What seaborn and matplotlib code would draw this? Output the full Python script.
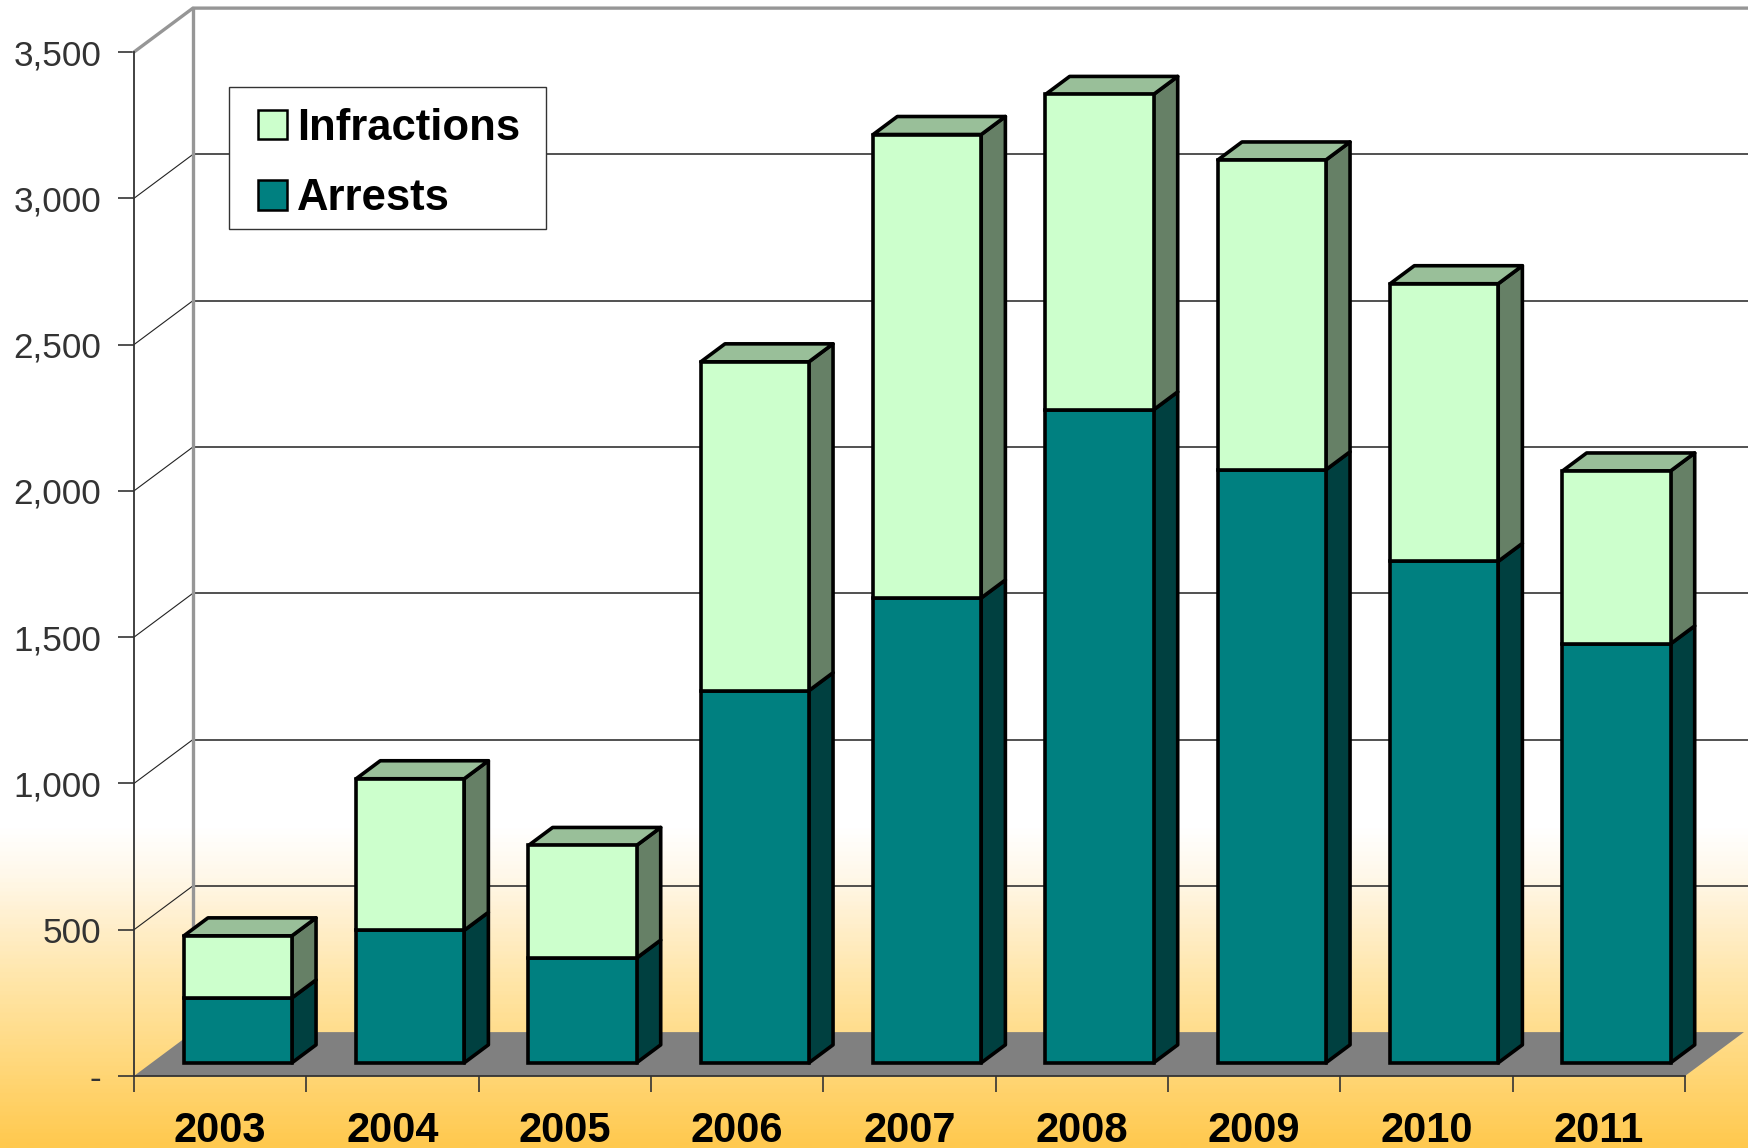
import numpy as np
import pandas as pd
import seaborn as sns
import matplotlib
matplotlib.use("Agg")
import matplotlib.pyplot as plt
from matplotlib.colors import LinearSegmentedColormap
from matplotlib.patches import Patch, Polygon, Rectangle

years = ["2003", "2004", "2005", "2006", "2007", "2008", "2009", "2010", "2011"]
arrests = [222, 453, 358, 1272, 1589, 2232, 2027, 1714, 1432]
infractions = [212, 518, 385, 1124, 1584, 1078, 1059, 949, 591]
y_ticks = [0, 500, 1000, 1500, 2000, 2500, 3000, 3500]
y_labels = ["-", "500", "1,000", "1,500", "2,000", "2,500", "3,000", "3,500"]

sns.set_theme(style="white")
plt.rcParams["font.family"] = ["Liberation Sans", "DejaVu Sans"]

W, H = 1748, 1148
fig = plt.figure(figsize=(W / 100, H / 100), dpi=100)

# background gradient
bg = fig.add_axes([0, 0, 1, 1], zorder=0)
cmap = LinearSegmentedColormap.from_list(
    "g", [(0, "#FFFFFF"), (0.723, "#FFFFFF"), (0.767, "#FFF8E8"), (0.80, "#FFF0D0"),
          (0.854, "#FFE6AA"), (0.923, "#FFD97F"), (1, "#FFC94F")])
bg.imshow(np.linspace(0, 1, 600)[:, None], aspect="auto", cmap=cmap, extent=[0, 1, 0, 1],
          vmin=0, vmax=1)
bg.axis("off")

ax = fig.add_axes([134 / W, (H - 1076) / H, 1551 / W, 1024 / H], zorder=1)
ax.patch.set_alpha(0)

df = pd.DataFrame({"Year": years, "Arrests": arrests, "Infractions": infractions})

# oblique projection, data units per full chart depth
DX, DY = 0.342, 150.0
BAR_W = 0.627
F_BAR = 0.30      # depth of the bar front
F_SIDE = 0.41     # depth of the bar itself

C = {"Arrests": ("#008080", "#004040"), "Infractions": ("#CCFFCC", "#668066")}
TOP = "#99BF99"
EDGE = "#000000"
LW = 2.6

sns.barplot(data=df, x="Year", y="Arrests", color=C["Arrests"][0], saturation=1, width=BAR_W,
            edgecolor=EDGE, linewidth=LW, ax=ax, zorder=3)
sns.barplot(data=df, x="Year", y="Infractions", bottom=df["Arrests"], color=C["Infractions"][0],
            saturation=1, width=BAR_W, edgecolor=EDGE, linewidth=LW, ax=ax, zorder=3)

for cont in ax.containers:
    for p in cont:
        p.set_x(p.get_x() + DX * F_BAR)
        p.set_y(p.get_y() + DY * F_BAR)
        p.set_clip_on(False)

ax.set_xlim(-0.5, 8.5)
ax.set_ylim(0, 3500)
ax.set_xlabel("")
ax.set_ylabel("")

# side + top faces
sx, sy = DX * F_SIDE, DY * F_SIDE
for i in range(len(years)):
    xr = i + BAR_W / 2 + DX * F_BAR
    xl = i - BAR_W / 2 + DX * F_BAR
    y0 = DY * F_BAR
    y1 = y0 + arrests[i]
    y2 = y1 + infractions[i]
    for a, b, col in ((y0, y1, C["Arrests"][1]), (y1, y2, C["Infractions"][1])):
        ax.add_patch(Polygon([(xr, a), (xr + sx, a + sy), (xr + sx, b + sy), (xr, b)],
                             fc=col, ec=EDGE, lw=LW, joinstyle="round", clip_on=False, zorder=2.9))
    ax.add_patch(Polygon([(xl, y2), (xl + sx, y2 + sy), (xr + sx, y2 + sy), (xr, y2)],
                         fc=TOP, ec=EDGE, lw=LW, joinstyle="round", clip_on=False, zorder=2.9))

# floor
x0, x1 = -0.5, 8.5
ax.add_patch(Polygon([(x0, 0), (x1, 0), (x1 + DX, DY), (x0 + DX, DY)], fc="#808080", ec="none",
                     clip_on=False, zorder=0.5))
# walls and gridlines
GRID = "#222222"
WALL = "#969696"
for v in y_ticks[1:-1]:
    ax.plot([x0, x0 + DX], [v, v + DY], color=GRID, lw=0.8, clip_on=False, zorder=0.6)
    ax.plot([x0 + DX, x1 + DX + 0.03], [v + DY, v + DY], color=GRID, lw=1.1, clip_on=False, zorder=0.6)
ax.plot([x0, x0 + DX, x1 + DX + 0.03], [3500, 3500 + DY, 3500 + DY], color=WALL, lw=2.4,
        clip_on=False, zorder=0.7, solid_joinstyle="miter")
ax.plot([x0 + DX, x0 + DX], [DY, 3500 + DY], color=WALL, lw=2.4, clip_on=False, zorder=0.7)

# axes
for s in ("top", "right"):
    ax.spines[s].set_visible(False)
for s in ("left", "bottom"):
    ax.spines[s].set_visible(True)
    ax.spines[s].set_color("#333333")
    ax.spines[s].set_linewidth(1.3)
ax.set_yticks(y_ticks, y_labels)
ax.tick_params(axis="y", length=11.5, width=1.2, color="#333333", left=True, pad=12,
               labelsize=25.3, labelcolor="#333333")
ax.set_xticks(np.arange(-0.5, 9, 1), minor=True)
ax.tick_params(axis="x", which="major", length=0, pad=25, labelsize=30, labelcolor="#000000")
ax.tick_params(axis="x", which="minor", length=11.5, width=1.2, color="#333333", bottom=True)
for t in ax.get_xticklabels():
    t.set_fontweight("bold")

# legend: frame drawn apart so that its padding can differ per side
frame = Rectangle((228.5 / W, 1 - 228.5 / H), 317.5 / W, 141.5 / H, transform=fig.transFigure,
                  fc="white", ec="#333333", lw=1.0, zorder=4.9)
ax.add_patch(frame)
frame.set_clip_on(False)
handles = [Patch(fc=C["Infractions"][0], ec=EDGE, lw=1.8), Patch(fc=C["Arrests"][0], ec=EDGE, lw=1.8)]
leg = ax.legend(handles, ["Infractions", "Arrests"], loc="upper left",
                bbox_to_anchor=(257.5 / W, 1 - 108 / H), bbox_transform=fig.transFigure,
                borderaxespad=0, frameon=False, labelcolor="#000000",
                prop={"family": ["Liberation Sans", "DejaVu Sans"], "weight": "bold", "size": 31.4},
                handlelength=0.665, handleheight=0.665, handletextpad=0.25, labelspacing=0.67,
                borderpad=0)
leg.set_zorder(5)

fig.savefig("out.png", dpi=100)
